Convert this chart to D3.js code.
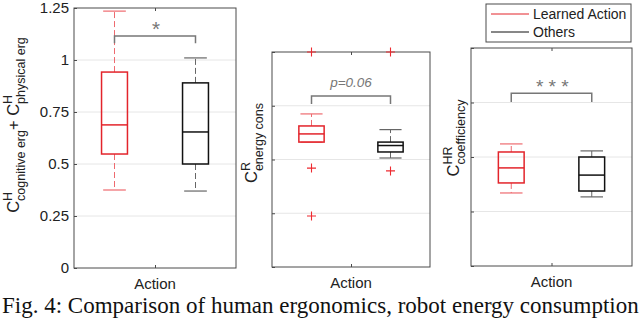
<!DOCTYPE html>
<html>
<head>
<meta charset="utf-8">
<script src="https://cdn.jsdelivr.net/npm/d3@7"></script>
<style>
  body { margin: 0; background: #fff; }
  svg { display: block; font-family: "Liberation Sans", Arial, sans-serif; }
</style>
</head>
<body>
<svg id="chart" width="640" height="319"></svg>
<script>
// groups along x (MATLAB puts them at 1 and 2)
let groups = ['Learned Action', 'Others']
let groupColors = ['#e3242b', '#111111']

// box stats: [lower whisker, q1, median, q3, upper whisker]
let ergStats = [[0.375, 0.548, 0.688, 0.942, 1.235], [0.37, 0.50, 0.654, 0.89, 1.01]]
let ergOutliers = [[], []]
let ergTicks = [0, 0.25, 0.5, 0.75, 1, 1.25]

let energyStats = [[0.581, 0.581, 0.619, 0.656, 0.712], [0.507, 0.535, 0.565, 0.581, 0.639]]
let energyOutliers = [[1.0, 0.46, 0.237], [1.0, 0.447]]
let energyTicks = [0, 0.25, 0.5, 0.75, 1]

let hrStats = [[0.335, 0.381, 0.450, 0.523, 0.560], [0.317, 0.344, 0.417, 0.50, 0.528]]
let hrOutliers = [[], []]
let hrTicks = [0, 0.25, 0.5, 0.75, 1]

let svg = d3.select('#chart')

let axisColor = '#4a4a4a'
let gridColor = '#e6e6e6'
let sigColor = '#777777'

let panels = [
    {left: 74, right: 236, top: 8, bottom: 268, domain: [0, 1.25], ticks: ergTicks, showLabels: true,
     stats: ergStats, outliers: ergOutliers, bracket: [1.115, 1.08], sig: '*', sigY: 36, sigSize: 21,
     label: [{t: 'C'}, {sup: 'H', sub: 'cognitive erg'}, {t: ' + C'}, {sup: 'H', sub: 'physical erg'}],
     labelX: 19, labelY: 125},
    {left: 272, right: 430, top: 52, bottom: 267, domain: [0, 1], ticks: energyTicks, showLabels: false,
     stats: energyStats, outliers: energyOutliers, bracket: [0.795, 0.758], sig: 'p=0.06', sigY: 87, sigSize: 13.5,
     label: [{t: 'C'}, {sup: 'R', sub: 'energy cons'}],
     labelX: 257, labelY: 143},
    {left: 471, right: 632, top: 48, bottom: 266, domain: [0, 1], ticks: hrTicks, showLabels: false,
     stats: hrStats, outliers: hrOutliers, bracket: [0.793, 0.752], sig: '* * *', sigY: 93, sigSize: 19,
     label: [{t: 'C'}, {sup: 'HR', sub: 'coefficiency'}],
     labelX: 459, labelY: 138}
]

let drawLabel = function(p) {
    let g = svg.append('g')
    let cursor = 0
    p.label.forEach((part) => {
        if (part.t) {
            let t = g.append('text').attr('x', cursor).attr('y', 0)
                .attr('font-size', 16.5).attr('fill', '#222').text(part.t)
            cursor += t.node().getComputedTextLength()
        } else {
            let a = g.append('text').attr('x', cursor).attr('y', -7)
                .attr('font-size', 12.5).attr('fill', '#222').text(part.sup)
            let b = g.append('text').attr('x', cursor).attr('y', 6)
                .attr('font-size', 12.5).attr('fill', '#222').text(part.sub)
            cursor += Math.max(a.node().getComputedTextLength(), b.node().getComputedTextLength())
        }
    })
    g.attr('transform', 'translate(' + p.labelX + ',' + (p.labelY + cursor / 2) + ') rotate(-90)')
}

panels.forEach((p) => {
    let x = d3.scaleLinear().domain([0.5, 2.5]).range([p.left, p.right])
    let y = d3.scaleLinear().domain(p.domain).range([p.bottom, p.top])
    let g = svg.append('g')

    // grid
    g.selectAll('.grid').data(p.ticks.slice(1, -1).filter((d) => d < p.domain[1]))
        .enter().append('line')
        .attr('x1', p.left).attr('x2', p.right)
        .attr('y1', (d) => y(d)).attr('y2', (d) => y(d))
        .attr('stroke', gridColor).attr('stroke-width', 1)

    // y axis with inward ticks
    let yAxis = d3.axisRight(y).tickValues(p.ticks).tickSize(3).tickFormat('')
    let ya = g.append('g').attr('transform', 'translate(' + p.left + ',0)').call(yAxis)
    ya.select('.domain').remove()
    ya.selectAll('line').attr('stroke', axisColor)
    if (p.showLabels) {
        g.selectAll('.ylab').data(p.ticks).enter().append('text')
            .attr('x', p.left - 5).attr('y', (d) => y(d) + 5)
            .attr('text-anchor', 'end').attr('font-size', 15).attr('fill', '#222')
            .text((d) => d3.format('~g')(d))
    }

    // box frame
    g.append('rect').attr('x', p.left).attr('y', p.top)
        .attr('width', p.right - p.left).attr('height', p.bottom - p.top)
        .attr('fill', 'none').attr('stroke', axisColor).attr('stroke-width', 1)

    // x ticks at center, top and bottom
    let xa = g.append('g').attr('transform', 'translate(0,' + p.bottom + ')')
        .call(d3.axisTop(x).tickValues([1.5]).tickSize(3).tickFormat(''))
    xa.select('.domain').remove()
    xa.selectAll('line').attr('stroke', axisColor)
    let xt = g.append('g').attr('transform', 'translate(0,' + p.top + ')')
        .call(d3.axisBottom(x).tickValues([1.5]).tickSize(3).tickFormat(''))
    xt.select('.domain').remove()
    xt.selectAll('line').attr('stroke', axisColor)

    g.append('text').attr('x', x(1.5)).attr('y', p.bottom + 21)
        .attr('text-anchor', 'middle').attr('font-size', 15).attr('fill', '#222').text('Action')

    // boxes
    let boxW = 0.32, capW = 0.14
    p.stats.forEach((s, i) => {
        let cx = i + 1
        let col = groupColors[i]
        let wcol = i == 0 ? '#ee6a6f' : '#666'
        let bg = g.append('g')
        bg.append('line').attr('x1', x(cx)).attr('x2', x(cx)).attr('y1', y(s[3])).attr('y2', y(s[4]))
            .attr('stroke', wcol).attr('stroke-width', 1).attr('stroke-dasharray', '6,3')
        bg.append('line').attr('x1', x(cx)).attr('x2', x(cx)).attr('y1', y(s[1])).attr('y2', y(s[0]))
            .attr('stroke', wcol).attr('stroke-width', 1).attr('stroke-dasharray', '6,3')
        bg.selectAll('.cap').data([s[0], s[4]]).enter().append('line')
            .attr('x1', x(cx - capW)).attr('x2', x(cx + capW))
            .attr('y1', (d) => y(d)).attr('y2', (d) => y(d))
            .attr('stroke', wcol).attr('stroke-width', 1.2)
        bg.append('rect').attr('x', x(cx - boxW / 2)).attr('y', y(s[3]))
            .attr('width', x(cx + boxW / 2) - x(cx - boxW / 2)).attr('height', y(s[1]) - y(s[3]))
            .attr('fill', 'none').attr('stroke', col).attr('stroke-width', 1.5)
        bg.append('line').attr('x1', x(cx - boxW / 2)).attr('x2', x(cx + boxW / 2))
            .attr('y1', y(s[2])).attr('y2', y(s[2]))
            .attr('stroke', col).attr('stroke-width', 1.5)

        // outliers as red plus signs
        p.outliers[i].forEach((o) => {
            let oy = y(o), ox = x(cx)
            bg.append('path').attr('d', 'M' + (ox - 4.5) + ',' + oy + 'H' + (ox + 4.5) + 'M' + ox + ',' + (oy - 4.5) + 'V' + (oy + 4.5))
                .attr('stroke', '#ee2a30').attr('stroke-width', 1.1).attr('fill', 'none')
        })
    })

    // significance bracket
    let b = p.bracket
    g.append('path')
        .attr('d', 'M' + x(1) + ',' + y(b[1]) + 'V' + y(b[0]) + 'H' + x(2) + 'V' + y(b[1]))
        .attr('fill', 'none').attr('stroke', sigColor).attr('stroke-width', 1.5)
    g.append('text').attr('x', x(1.5)).attr('y', p.sigY)
        .attr('text-anchor', 'middle').attr('font-size', p.sigSize).attr('font-style', 'italic')
        .attr('fill', sigColor).text(p.sig)

    drawLabel(p)
})

// legend
let legend = svg.append('g')
legend.append('rect').attr('x', 486).attr('y', 4).attr('width', 145).attr('height', 38)
    .attr('fill', '#fff').attr('stroke', axisColor).attr('stroke-width', 1)
groups.forEach((name, i) => {
    let ly = 14 + i * 18
    legend.append('line').attr('x1', 491).attr('x2', 529).attr('y1', ly).attr('y2', ly)
        .attr('stroke', groupColors[i]).attr('stroke-width', 1)
    legend.append('text').attr('x', 533).attr('y', ly + 5).attr('font-size', 14).attr('fill', '#222').text(name)
})

// caption (cut off at the bottom edge, as in the figure)
svg.append('text').attr('x', 2).attr('y', 313)
    .attr('font-family', '"Liberation Serif", "Times New Roman", serif')
    .attr('font-size', 23).attr('fill', '#111')
    .text('Fig. 4: Comparison of human ergonomics, robot energy consumption')
</script>
</body>
</html>
